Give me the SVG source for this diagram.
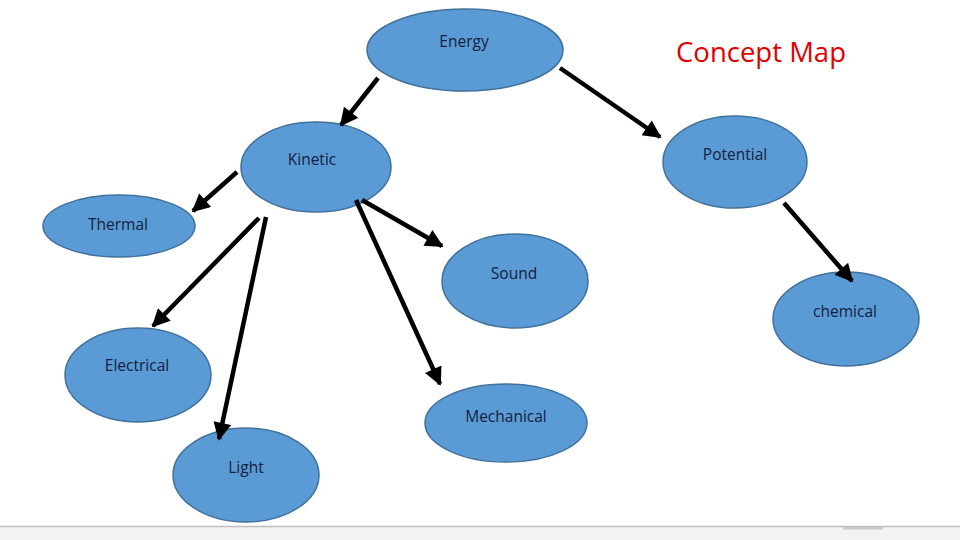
<svg xmlns="http://www.w3.org/2000/svg" width="960" height="540" viewBox="0 0 960 540">
<defs>
<marker id="ah" viewBox="0 0 10 10" refX="9" refY="5" markerWidth="4.5" markerHeight="4" orient="auto" markerUnits="strokeWidth">
<path d="M0,0 L10,5 L0,10 z" fill="#000"/>
</marker>
</defs>
<style>
.n{fill:#5b9bd5;stroke:#41719c;stroke-width:1.5}
.t{font-family:"Open Sans","Liberation Sans",sans-serif;font-size:15.5px;fill:#14213d;text-anchor:middle}
.c line{stroke:#000;stroke-width:4.5;marker-end:url(#ah)}
</style>
<rect width="960" height="540" fill="#fff"/>
<rect x="0" y="527" width="960" height="13" fill="#f2f2f2"/>
<line x1="0" y1="526.5" x2="960" y2="526.5" stroke="#bfbfbf" stroke-width="1.5"/>
<rect x="843" y="527" width="40" height="2.5" fill="#c8c8c8"/>
<text x="761" y="62" font-family="'Open Sans','Liberation Sans',sans-serif" font-size="27.5" fill="#e00000" text-anchor="middle">Concept Map</text>
<g id="energy"><ellipse class="n" cx="465" cy="50" rx="98" ry="41" stroke="#3f6a9e" stroke-width="4.5"/><text class="t" x="464" y="47">Energy</text></g>
<g id="kinetic"><ellipse class="n" cx="316" cy="167" rx="75" ry="45" stroke="#000" stroke-width="2"/><text class="t" x="312" y="165">Kinetic</text></g>
<g id="potential"><ellipse class="n" cx="735" cy="162" rx="72" ry="46"/><text class="t" x="735" y="160">Potential</text></g>
<g id="thermal"><ellipse class="n" cx="119" cy="226" rx="76" ry="31"/><text class="t" x="118" y="230">Thermal</text></g>
<g id="sound"><ellipse class="n" cx="515" cy="281" rx="73" ry="47"/><text class="t" x="514" y="279">Sound</text></g>
<g id="chemical"><ellipse class="n" cx="846" cy="319" rx="73" ry="47"/><text class="t" x="845" y="317">chemical</text></g>
<g id="electrical"><ellipse class="n" cx="138" cy="375" rx="73" ry="47"/><text class="t" x="137" y="371">Electrical</text></g>
<g id="mechanical"><ellipse class="n" cx="506" cy="423" rx="81" ry="39"/><text class="t" x="506" y="422">Mechanical</text></g>
<g id="light"><ellipse class="n" cx="246" cy="475" rx="73" ry="47"/><text class="t" x="246" y="473">Light</text></g>
<g id="connectors" class="c">
<line x1="378" y1="78" x2="341" y2="125"/>
<line x1="560" y1="68" x2="660" y2="137"/>
<line x1="237" y1="172" x2="193" y2="211"/>
<line x1="259" y1="218" x2="153" y2="326"/>
<line x1="266" y1="217" x2="219" y2="439"/>
<line x1="356" y1="200" x2="440" y2="384"/>
<line x1="362" y1="200" x2="442" y2="246"/>
<line x1="784" y1="203" x2="852" y2="281"/>
</g>
</svg>
